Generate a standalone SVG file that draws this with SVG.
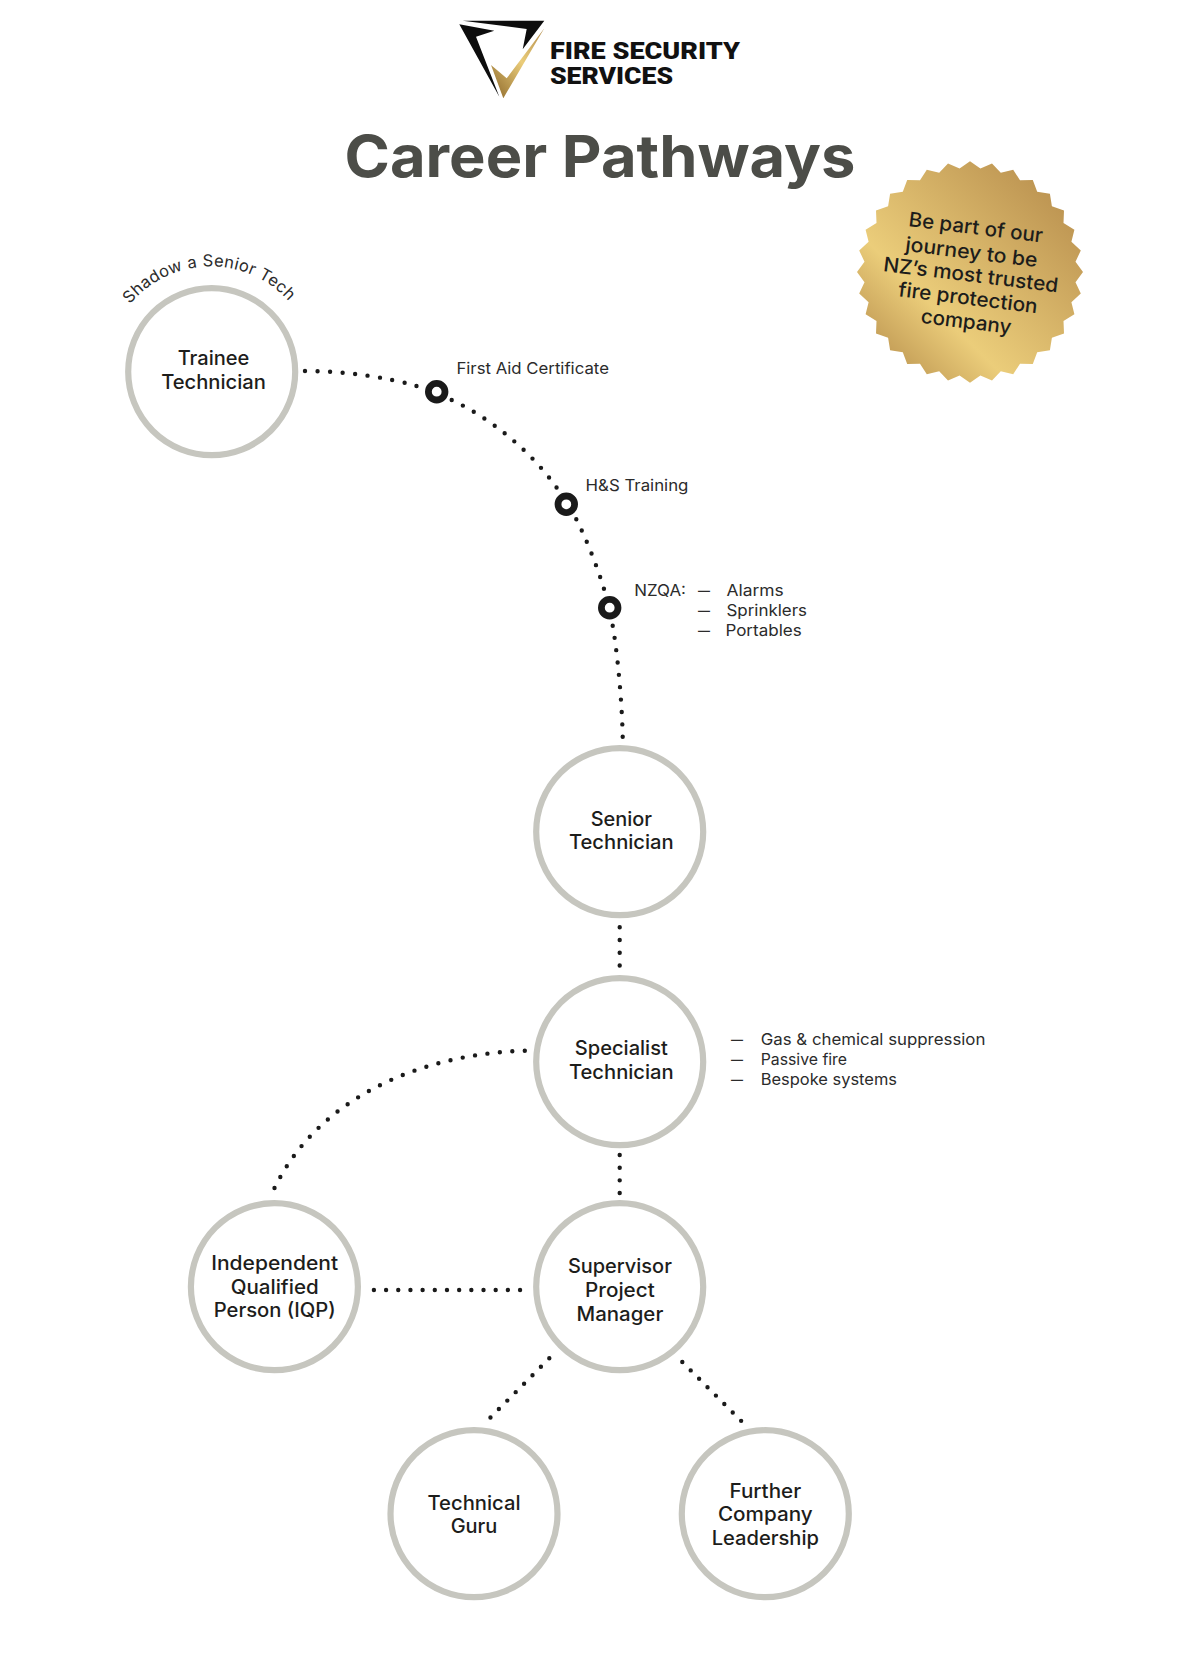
<svg xmlns="http://www.w3.org/2000/svg" width="1202" height="1662" viewBox="0 0 1202 1662">
<style>
text{font-family:"Inter","Liberation Sans",sans-serif;fill:#1d1d1b}
.n{font-size:19.5px;font-weight:500;text-anchor:middle}
.s{font-size:16px;font-weight:400;fill:#2b2b2b}
.b{font-size:20px;font-weight:500;text-anchor:middle}
.l{font-family:"Roboto","Liberation Sans",sans-serif;font-size:24.5px;font-weight:900;fill:#111}
.ring{fill:#fff;stroke:#c6c6bf;stroke-width:6.2}
.d{fill:none;stroke:#1a1a1a;stroke-width:4.4;stroke-linecap:round;stroke-dasharray:0 1}
.m{fill:#fff;stroke:#1a1a1a;stroke-width:6.8}
</style>
<defs>
<linearGradient id="gold" gradientUnits="userSpaceOnUse" x1="100" y1="-100" x2="-90" y2="88">
<stop offset="0" stop-color="#b68c4c"/><stop offset=".72" stop-color="#ebcd7a"/><stop offset="1" stop-color="#bf9853"/>
</linearGradient>
<linearGradient id="chk" x1="1" y1="0" x2="0" y2="1">
<stop offset="0" stop-color="#b08a4a"/><stop offset=".45" stop-color="#ebcd7a"/><stop offset="1" stop-color="#8a6528"/>
</linearGradient>
<path id="arc" d="M127,308 A105,105 0 0 1 292,305"/>
</defs>
<g id="logo">
<polygon points="462.7,20.7 544.3,20.7 522.7,49.3 526.7,29" fill="#0d0d0d"/>
<polygon points="459.3,24.3 494.3,30.7 476,36.7 499.3,96.7" fill="#0d0d0d"/>
<polygon points="491,65 506.7,78.3 544.3,28.3 503.3,98.3" fill="url(#chk)"/>
<text class="l" x="550" y="59" textLength="190" lengthAdjust="spacingAndGlyphs">FIRE SECURITY</text>
<text class="l" x="550" y="84" textLength="123" lengthAdjust="spacingAndGlyphs">SERVICES</text>
</g>
<text id="title" x="600" y="176.7" text-anchor="middle" textLength="511" lengthAdjust="spacingAndGlyphs" style="font-size:58px;font-weight:700;fill:#4c4d48">Career Pathways</text>
<g id="badge">
<polygon transform="translate(970 272) scale(1 .98)" fill="url(#gold)" points="113,0 105.5,10.4 110.8,22 101.4,30.8 104.4,43.2 93.5,50 94,62.8 81.9,67.2 79.9,79.9 67.2,81.9 62.8,94 50,93.5 43.2,104.4 30.8,101.4 22,110.8 10.4,105.5 0,113 -10.4,105.5 -22,110.8 -30.8,101.4 -43.2,104.4 -50,93.5 -62.8,94 -67.2,81.9 -79.9,79.9 -81.9,67.2 -94,62.8 -93.5,50 -104.4,43.2 -101.4,30.8 -110.8,22 -105.5,10.4 -113,0 -105.5,-10.4 -110.8,-22 -101.4,-30.8 -104.4,-43.2 -93.5,-50 -94,-62.8 -81.9,-67.2 -79.9,-79.9 -67.2,-81.9 -62.8,-94 -50,-93.5 -43.2,-104.4 -30.8,-101.4 -22,-110.8 -10.4,-105.5 0,-113 10.4,-105.5 22,-110.8 30.8,-101.4 43.2,-104.4 50,-93.5 62.8,-94 67.2,-81.9 79.9,-79.9 81.9,-67.2 94,-62.8 93.5,-50 104.4,-43.2 101.4,-30.8 110.8,-22 105.5,-10.4"/>
<text class="b" x="975" y="234.3" textLength="135" lengthAdjust="spacingAndGlyphs" transform="rotate(7 975 234.3)">Be part of our</text>
<text class="b" x="970.7" y="259" textLength="133" lengthAdjust="spacingAndGlyphs" transform="rotate(7 970.7 259)">journey to be</text>
<text class="b" x="970" y="281.7" textLength="176" lengthAdjust="spacingAndGlyphs" transform="rotate(7 970 281.7)">NZ’s most trusted</text>
<text class="b" x="967.3" y="304.7" textLength="140" lengthAdjust="spacingAndGlyphs" transform="rotate(7 967.3 304.7)">fire protection</text>
<text class="b" x="965.3" y="328.3" textLength="91" lengthAdjust="spacingAndGlyphs" transform="rotate(7 965.3 328.3)">company</text>
</g>
<g id="connectors">
<path class="d" pathLength="9.02" d="M305,371 C345,371 385,377 416.7,386"/>
<path class="d" pathLength="11.02" d="M451.7,400 C490,418 530,450 556.7,487.7"/>
<path class="d" pathLength="6.02" d="M576.3,519.3 C586,538 597,566 604,589"/>
<path class="d" pathLength="9.02" d="M612.7,625.7 C617,650 622,700 622.7,737"/>
<path class="d" pathLength="3.02" d="M619.7,927.3 V965.7"/>
<path class="d" pathLength="3.02" d="M619.7,1155 V1193.3"/>
<path class="d" pathLength="24.02" d="M524.8,1050.7 C420,1054 318,1098 274.4,1188.3"/>
<path class="d" pathLength="12.02" d="M373.9,1290 H520.3"/>
<path class="d" pathLength="7.02" d="M549.3,1358.3 L490.3,1417.7"/>
<path class="d" pathLength="7.02" d="M682.3,1362 L741.3,1421"/>
</g>
<g id="milestone-first-aid">
<circle class="m" cx="436.7" cy="391.7" r="8.3"/>
<text class="s" x="456.4" y="374" textLength="152.5" lengthAdjust="spacingAndGlyphs">First Aid Certificate</text>
</g>
<g id="milestone-hs">
<circle class="m" cx="566.3" cy="504.3" r="8.3"/>
<text class="s" x="585.6" y="490.7" textLength="102.8" lengthAdjust="spacingAndGlyphs">H&amp;S Training</text>
</g>
<g id="milestone-nzqa">
<circle class="m" cx="609.7" cy="607.7" r="8.3"/>
<text class="s" x="634.3" y="596" textLength="51.7" lengthAdjust="spacingAndGlyphs">NZQA:</text>
<text class="s" x="698" y="596" textLength="12" lengthAdjust="spacingAndGlyphs">—</text>
<text class="s" x="698" y="616" textLength="12" lengthAdjust="spacingAndGlyphs">—</text>
<text class="s" x="698" y="636" textLength="12" lengthAdjust="spacingAndGlyphs">—</text>
<text class="s" x="726.5" y="596" textLength="57.2" lengthAdjust="spacingAndGlyphs">Alarms</text>
<text class="s" x="726.5" y="616" textLength="80.5" lengthAdjust="spacingAndGlyphs">Sprinklers</text>
<text class="s" x="725.4" y="636" textLength="76.3" lengthAdjust="spacingAndGlyphs">Portables</text>
</g>
<g id="trainee">
<circle class="ring" cx="211.7" cy="371.7" r="83.5"/>
<text class="n" x="213.5" y="365" textLength="71.7" lengthAdjust="spacingAndGlyphs">Trainee</text>
<text class="n" x="213.5" y="388.7" textLength="104.7" lengthAdjust="spacingAndGlyphs">Technician</text>
<text style="font-size:16.5px;font-weight:400;fill:#2b2b2b;letter-spacing:.3px" text-anchor="middle"><textPath href="#arc" startOffset="50%">Shadow a Senior Tech</textPath></text>
</g>
<g id="senior">
<circle class="ring" cx="619.7" cy="831.7" r="83.5"/>
<text class="n" x="621.3" y="826" textLength="61.3" lengthAdjust="spacingAndGlyphs">Senior</text>
<text class="n" x="621.3" y="849.3" textLength="104.7" lengthAdjust="spacingAndGlyphs">Technician</text>
</g>
<g id="specialist">
<circle class="ring" cx="619.7" cy="1061.7" r="83.5"/>
<text class="n" x="621.3" y="1055.3" textLength="93" lengthAdjust="spacingAndGlyphs">Specialist</text>
<text class="n" x="621.3" y="1079.3" textLength="104.7" lengthAdjust="spacingAndGlyphs">Technician</text>
<text class="s" x="731" y="1045" textLength="12" lengthAdjust="spacingAndGlyphs">—</text>
<text class="s" x="731" y="1065" textLength="12" lengthAdjust="spacingAndGlyphs">—</text>
<text class="s" x="731" y="1085" textLength="12" lengthAdjust="spacingAndGlyphs">—</text>
<text class="s" x="760.7" y="1045" textLength="224.7" lengthAdjust="spacingAndGlyphs">Gas &amp; chemical suppression</text>
<text class="s" x="760.7" y="1065" textLength="86.3" lengthAdjust="spacingAndGlyphs">Passive fire</text>
<text class="s" x="760.7" y="1085" textLength="136.3" lengthAdjust="spacingAndGlyphs">Bespoke systems</text>
</g>
<g id="supervisor">
<circle class="ring" cx="619.7" cy="1286.7" r="83.5"/>
<text class="n" x="619.9" y="1273.3" textLength="104" lengthAdjust="spacingAndGlyphs">Supervisor</text>
<text class="n" x="619.9" y="1296.7" textLength="69.6" lengthAdjust="spacingAndGlyphs">Project</text>
<text class="n" x="619.9" y="1320.7" textLength="86.8" lengthAdjust="spacingAndGlyphs">Manager</text>
</g>
<g id="iqp">
<circle class="ring" cx="274.4" cy="1286.7" r="83.5"/>
<text class="n" x="274.7" y="1270" textLength="127" lengthAdjust="spacingAndGlyphs">Independent</text>
<text class="n" x="274.7" y="1294" textLength="88" lengthAdjust="spacingAndGlyphs">Qualified</text>
<text class="n" x="274.7" y="1317.3" textLength="122" lengthAdjust="spacingAndGlyphs">Person (IQP)</text>
</g>
<g id="guru">
<circle class="ring" cx="474" cy="1513.7" r="83.5"/>
<text class="n" x="474" y="1510" textLength="93" lengthAdjust="spacingAndGlyphs">Technical</text>
<text class="n" x="474" y="1533.3" textLength="46.7" lengthAdjust="spacingAndGlyphs">Guru</text>
</g>
<g id="leadership">
<circle class="ring" cx="765.3" cy="1513.7" r="83.5"/>
<text class="n" x="765.3" y="1497.7" textLength="71.7" lengthAdjust="spacingAndGlyphs">Further</text>
<text class="n" x="765.3" y="1521.3" textLength="94.7" lengthAdjust="spacingAndGlyphs">Company</text>
<text class="n" x="765.3" y="1545" textLength="107.3" lengthAdjust="spacingAndGlyphs">Leadership</text>
</g>
</svg>
